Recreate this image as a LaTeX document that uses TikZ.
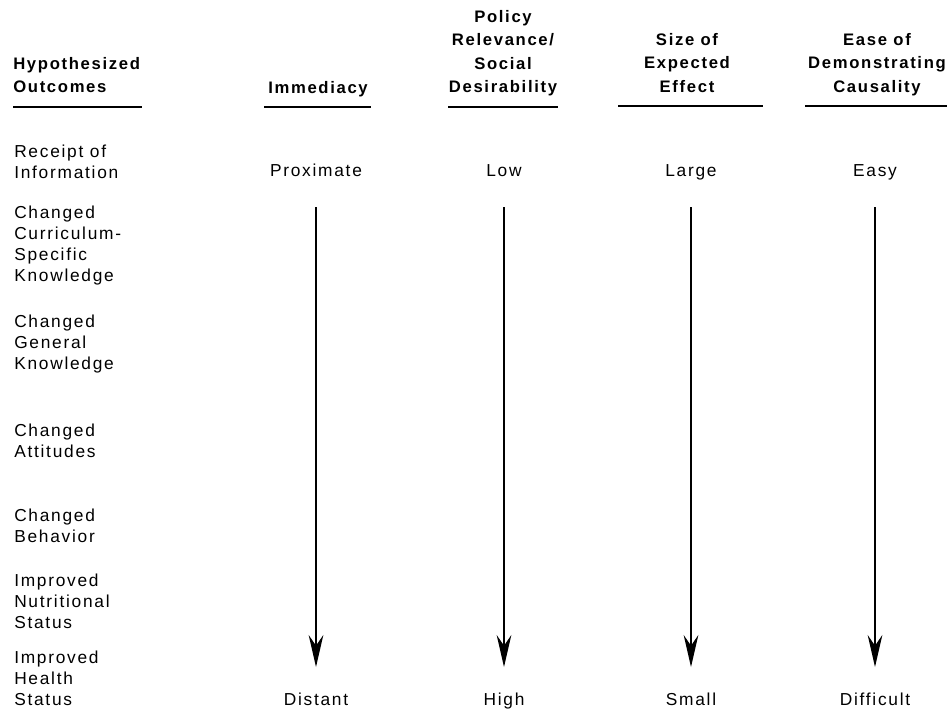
\documentclass[tikz,border=0pt]{standalone}
\usepackage{fontspec}
\setmainfont[LetterSpace=10]{Liberation Sans}
\usetikzlibrary{arrows.meta}

\tikzset{
    outcome/.style={anchor=north west, inner sep=0pt, align=left, font=\fontsize{13}{15.75}\selectfont},
    head/.style={anchor=north, inner sep=0pt, align=center, font=\bfseries\fontsize{12.5}{17.5}\selectfont},
    level/.style={anchor=base, inner sep=0pt, font=\fontsize{13}{15.75}\selectfont},
    rule/.style={line width=1.2pt},
    flow/.style={-{Stealth[length=24pt,width=11pt,inset=8pt]}, line width=1.1pt, shorten <=23.25pt, shorten >=28.5pt}
}

\begin{document}
\begin{tikzpicture}[x=0.75pt, y=-0.75pt]
    \useasboundingbox (0,0) rectangle (949,715);

    \node[head, anchor=north west, align=left] (outc) at (13,57) {Hypothesized\\Outcomes};
    \node[head] (immed) at (318,81) {Immediacy};
    \node[head] (policy) at (503,10) {Policy\\Relevance/\\Social\\Desirability};
    \node[head] (size) at (687,33) {Size of\\Expected\\Effect};
    \node[head] (ease) at (877,33) {Ease of\\Demonstrating\\Causality};

    \draw[rule] (13,107) -- (142,107);
    \draw[rule] (264,107) -- (371,107);
    \draw[rule] (448,107) -- (558,107);
    \draw[rule] (618,106) -- (763,106);
    \draw[rule] (805,106) -- (947,106);

    \node[outcome] (receipt) at (14,145) {Receipt of\\Information};
    \node[outcome] (curric) at (14,206) {Changed\\Curriculum-\\Specific\\Knowledge};
    \node[outcome] (general) at (14,315) {Changed\\General\\Knowledge};
    \node[outcome] (attit) at (14,424) {Changed\\Attitudes};
    \node[outcome] (behav) at (14,509) {Changed\\Behavior};
    \node[outcome] (nutri) at (14,574) {Improved\\Nutritional\\Status};
    \node[outcome] (health) at (14,651) {Improved\\Health\\Status};

    \node[level] (prox) at (316,176) {Proximate};
    \node[level] (low) at (504,176) {Low};
    \node[level] (large) at (691,176) {Large};
    \node[level] (easy) at (875,176) {Easy};

    \node[level] (dist) at (316,705) {Distant};
    \node[level] (high) at (504,705) {High};
    \node[level] (small) at (691,705) {Small};
    \node[level] (diff) at (875,705) {Difficult};

    \draw[flow] (prox.base) -- (dist.base);
    \draw[flow] (low.base) -- (high.base);
    \draw[flow] (large.base) -- (small.base);
    \draw[flow] (easy.base) -- (diff.base);
\end{tikzpicture}
\end{document}
